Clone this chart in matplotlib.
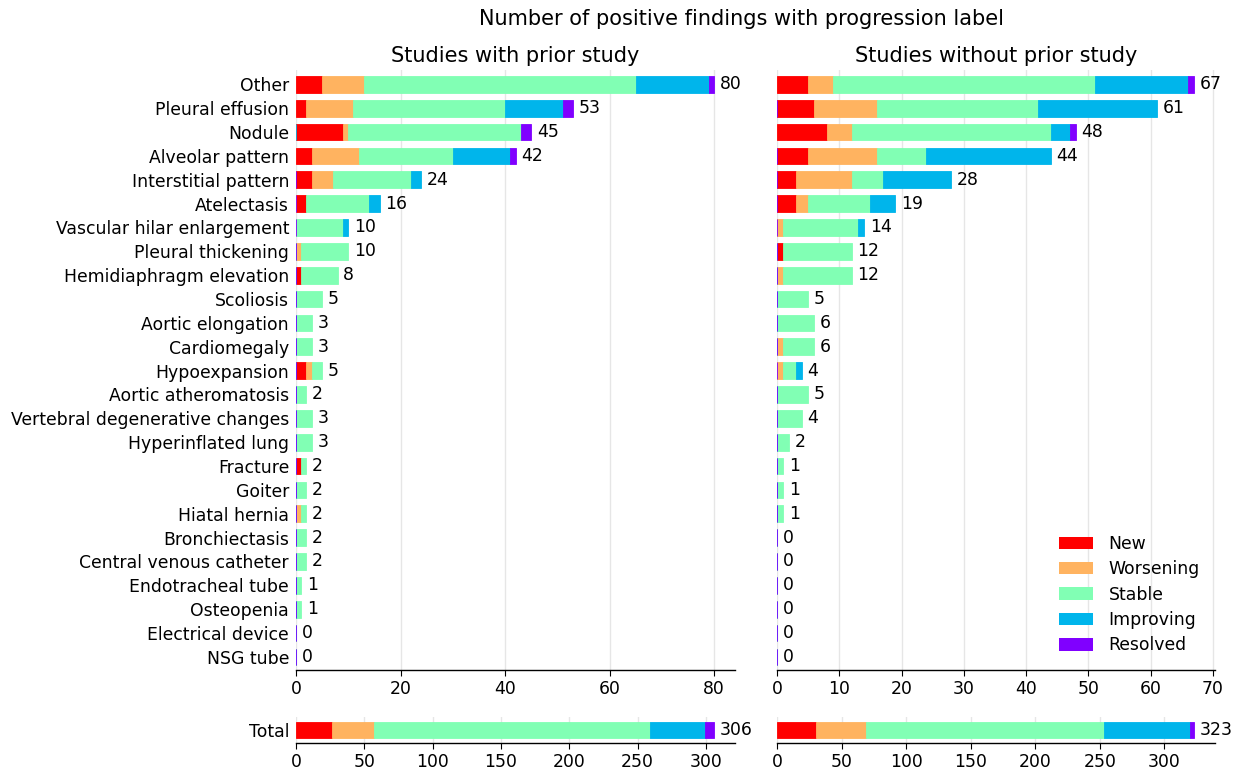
import numpy as np
import matplotlib
matplotlib.use("Agg")
import matplotlib.pyplot as plt
from matplotlib.patches import Patch

categories = ["Other", "Pleural effusion", "Nodule", "Alveolar pattern", "Interstitial pattern",
              "Atelectasis", "Vascular hilar enlargement", "Pleural thickening",
              "Hemidiaphragm elevation", "Scoliosis", "Aortic elongation", "Cardiomegaly",
              "Hypoexpansion", "Aortic atheromatosis", "Vertebral degenerative changes",
              "Hyperinflated lung", "Fracture", "Goiter", "Hiatal hernia", "Bronchiectasis",
              "Central venous catheter", "Endotracheal tube", "Osteopenia",
              "Electrical device", "NSG tube"]
labels = ["New", "Worsening", "Stable", "Improving", "Resolved"]

# Studies with prior study
prior_new       = [5, 2, 9, 3, 3, 2, 0, 0, 1, 0, 0, 0, 2, 0, 0, 0, 1, 0, 0, 0, 0, 0, 0, 0, 0]
prior_worsening = [8, 9, 1, 9, 4, 0, 0, 1, 0, 0, 0, 0, 1, 0, 0, 0, 0, 0, 1, 0, 0, 0, 0, 0, 0]
prior_stable    = [52, 29, 33, 18, 15, 12, 9, 9, 7, 5, 3, 3, 2, 2, 3, 3, 1, 2, 1, 2, 2, 1, 1, 0, 0]
prior_improving = [14, 11, 0, 11, 2, 2, 1, 0, 0, 0, 0, 0, 0, 0, 0, 0, 0, 0, 0, 0, 0, 0, 0, 0, 0]
prior_resolved  = [1, 2, 2, 1, 0, 0, 0, 0, 0, 0, 0, 0, 0, 0, 0, 0, 0, 0, 0, 0, 0, 0, 0, 0, 0]

# Studies without prior study
noprior_new       = [5, 6, 8, 5, 3, 3, 0, 1, 0, 0, 0, 0, 0, 0, 0, 0, 0, 0, 0, 0, 0, 0, 0, 0, 0]
noprior_worsening = [4, 10, 4, 11, 9, 2, 1, 0, 1, 0, 0, 1, 1, 0, 0, 0, 0, 0, 0, 0, 0, 0, 0, 0, 0]
noprior_stable    = [42, 26, 32, 8, 5, 10, 12, 11, 11, 5, 6, 5, 2, 5, 4, 2, 1, 1, 1, 0, 0, 0, 0, 0, 0]
noprior_improving = [15, 19, 3, 20, 11, 4, 1, 0, 0, 0, 0, 0, 1, 0, 0, 0, 0, 0, 0, 0, 0, 0, 0, 0, 0]
noprior_resolved  = [1, 0, 1, 0, 0, 0, 0, 0, 0, 0, 0, 0, 0, 0, 0, 0, 0, 0, 0, 0, 0, 0, 0, 0, 0]

# Totals
prior_total   = [26, 31, 202, 40, 7]
noprior_total = [30, 39, 184, 67, 3]

colors = plt.cm.rainbow(np.linspace(1, 0, 5))

FS = 12.4
plt.rcParams['font.family'] = ['DejaVu Sans']
plt.rcParams['font.size'] = FS

fig = plt.figure(figsize=(12.42, 7.73), dpi=100)

W, H = 1242, 773
def box(x0, y0, x1, y1):
    return [x0 / W, 1 - y1 / H, (x1 - x0) / W, (y1 - y0) / H]

ax_l = fig.add_axes(box(296, 70, 735, 670))
ax_r = fig.add_axes(box(777, 70, 1215, 670))
ax_lt = fig.add_axes(box(296, 717, 735, 743))
ax_rt = fig.add_axes(box(777, 717, 1215, 743))


def style(ax):
    for s in ["top", "right", "left"]:
        ax.spines[s].set_visible(False)
    ax.spines["bottom"].set_linewidth(1.0)
    ax.grid(axis="x", color="#e6e6e6", linewidth=1.0)
    ax.set_axisbelow(True)
    ax.tick_params(axis="y", length=0, pad=5, labelsize=FS)
    ax.tick_params(axis="x", length=4, labelsize=FS)


def stacked(ax, series, names, height=0.7):
    y = np.arange(len(names))
    data = np.array(series, dtype=float)
    cum = np.zeros(len(names))
    for k, vals in enumerate(data):
        lefts = np.where(vals > 0, cum, 0)
        ax.barh(y, vals, left=lefts, height=height, color=colors[k],
                edgecolor=colors[k], linewidth=0.6, label=labels[k])
        cum = cum + vals
    for i, t in enumerate(cum):
        ax.annotate(f"{int(t)}", (t, y[i]), xytext=(4, 0), textcoords="offset points",
                    va="center", ha="left", fontsize=FS)
    ax.set_yticks(y)
    ax.set_yticklabels(names)
    ax.set_xlim(0, cum.max() * 1.05)
    return cum


stacked(ax_l, [prior_new, prior_worsening, prior_stable, prior_improving, prior_resolved], categories)
ax_l.set_ylim(24.55, -0.6)
style(ax_l)
ax_l.set_title("Studies with prior study", fontsize=15, pad=6)

stacked(ax_r, [noprior_new, noprior_worsening, noprior_stable, noprior_improving, noprior_resolved], categories)
ax_r.set_ylim(24.55, -0.6)
style(ax_r)
ax_r.set_yticks([])
ax_r.set_title("Studies without prior study", fontsize=15, pad=6)

stacked(ax_lt, [[v] for v in prior_total], ["Total"])
ax_lt.set_ylim(0.55, -0.55)
style(ax_lt)

stacked(ax_rt, [[v] for v in noprior_total], ["Total"])
ax_rt.set_ylim(0.55, -0.55)
style(ax_rt)
ax_rt.set_yticks([])

handles = [Patch(facecolor=colors[k], edgecolor="none", label=labels[k]) for k in range(5)]
ax_r.legend(handles=handles, loc="lower right", frameon=False, fontsize=FS,
            bbox_to_anchor=(1.001, 0.0), handlelength=2.0, handleheight=0.73,
            labelspacing=0.43, handletextpad=0.9)

fig.suptitle("Number of positive findings with progression label", fontsize=15,
             x=0.597, y=0.988)

fig.savefig("out.png", dpi=100)
